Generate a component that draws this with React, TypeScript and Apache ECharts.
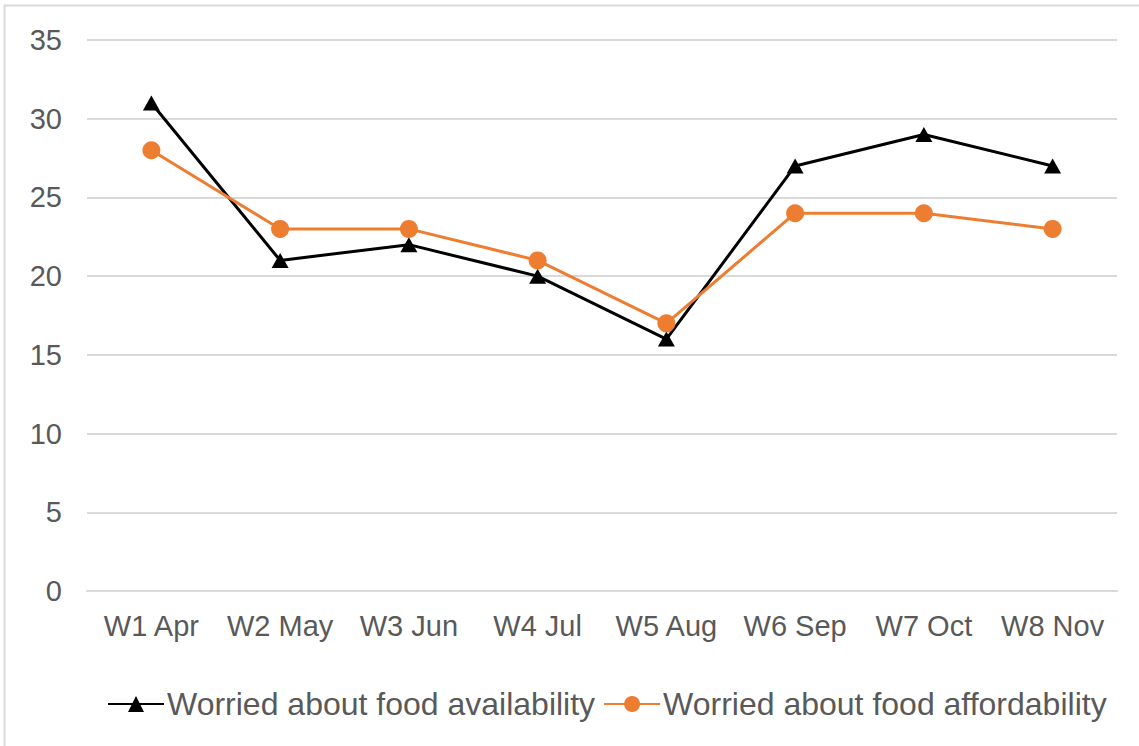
import React, { useEffect, useRef } from "react";
import * as echarts from "echarts";

const categories = ["W1 Apr", "W2 May", "W3 Jun", "W4 Jul", "W5 Aug", "W6 Sep", "W7 Oct", "W8 Nov"];
const availability = [31, 21, 22, 20, 16, 27, 29, 27];
const affordability = [28, 23, 23, 21, 17, 24, 24, 23];
const seriesNames = ["Worried about food availability", "Worried about food affordability"];

export default function App() {
  const ref = useRef<HTMLDivElement>(null);
  useEffect(() => {
    document.body.style.margin = "0";
    const chart = echarts.init(ref.current!, null, { renderer: "svg" });
    const font = "Liberation Sans, Arial, sans-serif";
    chart.setOption({
      animation: false,
      backgroundColor: "#ffffff",
      graphic: [
        {
          type: "rect",
          shape: { x: 4.5, y: 5.5, width: 1200, height: 800 },
          style: { fill: "none", stroke: "#d9d9d9", lineWidth: 2 },
          silent: true,
        },
      ],
      grid: { left: 87, right: 22, top: 40, bottom: 155, containLabel: false },
      legend: {
        top: 683,
        left: 102,
        itemWidth: 56,
        itemHeight: 20,
        itemGap: 8,
        textStyle: { fontFamily: font, fontSize: 32, color: "#595959", padding: [0, 0, 0, -2] },
        data: seriesNames,
      },
      xAxis: {
        type: "category",
        data: categories,
        boundaryGap: true,
        axisLine: { show: true, lineStyle: { color: "#d9d9d9", width: 2 } },
        axisTick: { show: false },
        axisLabel: { fontFamily: font, fontSize: 29, color: "#595959", margin: 20, interval: 0 },
      },
      yAxis: {
        type: "value",
        min: 0,
        max: 35,
        interval: 5,
        axisLine: { show: false },
        axisTick: { show: false },
        axisLabel: { fontFamily: font, fontSize: 29, color: "#595959", margin: 25 },
        splitLine: { lineStyle: { color: "#d9d9d9", width: 2 } },
      },
      series: [
        {
          name: seriesNames[0],
          type: "line",
          data: availability,
          symbol: "triangle",
          symbolSize: [17, 15],
          lineStyle: { color: "#000000", width: 3 },
          itemStyle: { color: "#000000" },
        },
        {
          name: seriesNames[1],
          type: "line",
          data: affordability,
          symbol: "circle",
          symbolSize: 18,
          lineStyle: { color: "#ed7d31", width: 3 },
          itemStyle: { color: "#ed7d31" },
        },
      ],
    });
    return () => chart.dispose();
  }, []);
  return <div ref={ref} style={{ position: "fixed", left: 0, top: 0, width: 1139, height: 746 }} />;
}
